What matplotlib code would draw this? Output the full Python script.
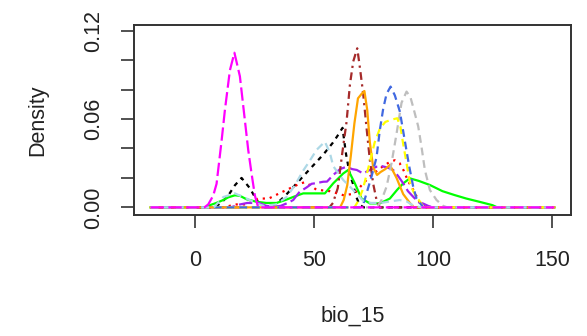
import matplotlib
matplotlib.use("Agg")
import matplotlib.pyplot as plt

# ----------------------------
# Density curves of bio_15
# ----------------------------

black_x = [-18.6, 8, 11, 14, 16.8, 19.6, 23.1, 25.9, 28, 31, 34, 38, 42, 46, 50, 54, 58, 60.5, 62, 63.5, 65, 66.4, 67.8, 69.3, 71, 151]
black_y = [0, 0, 0.003, 0.008, 0.015, 0.020, 0.013, 0.005, 0.001, 0.0005, 0.002, 0.008, 0.015, 0.022, 0.029, 0.036, 0.044, 0.050, 0.054, 0.036, 0.023, 0.016, 0.007, 0.0015, 0, 0]

red_x = [-18.6, 12, 17, 21, 23, 26.5, 31, 35.7, 41.3, 44, 46, 48.5, 51, 56.7, 62.3, 66, 68, 70, 73.5, 79.1, 82, 84, 86, 87.7, 89.5, 91.7, 94.5, 97, 151]
red_y = [0, 0, 0.002, 0.002, 0.003, 0.006, 0.006, 0.0097, 0.014, 0.016, 0.017, 0.015, 0.012, 0.011, 0.0083, 0.009, 0.011, 0.015, 0.021, 0.028, 0.031, 0.032, 0.030, 0.025, 0.018, 0.012, 0.003, 0, 0]

green_x = [-18.6, 5, 6.3, 9, 11.9, 14, 16.8, 19, 21.7, 25.9, 30, 34.3, 38, 42, 45.5, 50, 54.6, 58.1, 62.3, 64.4, 67.2, 70, 73.5, 77.7, 81.9, 85, 87.5, 90.3, 94, 98.7, 104, 109, 114, 119.5, 125, 127, 151]
green_y = [0, 0, 0.0015, 0.003, 0.005, 0.0068, 0.0082, 0.0078, 0.0055, 0.0038, 0.003, 0.003, 0.005, 0.0075, 0.0095, 0.0095, 0.0095, 0.0163, 0.023, 0.0254, 0.0163, 0.006, 0.0027, 0.0027, 0.006, 0.012, 0.0163, 0.0197, 0.018, 0.0152, 0.011, 0.0084, 0.006, 0.0038, 0.0015, 0, 0]

purple_x = [-18.6, 15, 19, 22, 27, 30, 33, 36, 39, 41.3, 44, 46.9, 49, 51.1, 53.9, 55.5, 58.1, 61, 63.7, 66, 68, 70.7, 73, 76.3, 78.5, 81, 83.3, 85.5, 87.5, 89.5, 91.7, 94, 96, 98, 100, 151]
purple_y = [0, 0, 0.002, 0.003, 0.003, 0.001, 0.0005, 0.001, 0.003, 0.005, 0.0106, 0.0135, 0.016, 0.0165, 0.0174, 0.0175, 0.022, 0.026, 0.0276, 0.026, 0.0254, 0.023, 0.025, 0.0276, 0.028, 0.027, 0.0254, 0.021, 0.0163, 0.011, 0.0072, 0.0035, 0.0025, 0.001, 0, 0]

brown_x = [-18.6, 56.5, 58, 60, 62, 63.7, 65.1, 66.5, 68.2, 69.3, 70.7, 72.1, 73.5, 74.9, 76.3, 77.7, 151]
brown_y = [0, 0, 0.003, 0.013, 0.038, 0.058, 0.083, 0.099, 0.108, 0.095, 0.077, 0.054, 0.032, 0.016, 0.005, 0, 0]

orange_x = [-18.6, 61, 62.5, 64, 65.5, 67, 68.5, 70, 71.2, 72.4, 73.5, 74.9, 76.5, 78, 80, 81.9, 84.7, 87.5, 90.3, 92, 151]
orange_y = [0, 0, 0.005, 0.015, 0.035, 0.057, 0.074, 0.077, 0.079, 0.066, 0.044, 0.027, 0.022, 0.024, 0.026, 0.0288, 0.020, 0.009, 0.003, 0, 0]

grey_x = [-18.6, 76.5, 78.4, 80.5, 82.6, 84.7, 86.8, 88.9, 90.5, 91.7, 93.8, 95.2, 96.6, 98.7, 101.5, 104.3, 106, 151]
grey_y = [0, 0, 0.005, 0.014, 0.030, 0.050, 0.071, 0.0786, 0.075, 0.068, 0.055, 0.041, 0.0254, 0.0118, 0.005, 0.001, 0, 0]

yellow_x = [-18.6, 67, 68.5, 70.5, 72.1, 74, 75.5, 77.7, 80, 82.5, 85, 86.3, 87.5, 88.9, 90.3, 91.7, 93.1, 94.5, 96, 151]
yellow_y = [0, 0, 0.004, 0.012, 0.022, 0.034, 0.044, 0.0535, 0.058, 0.0595, 0.0605, 0.055, 0.043, 0.030, 0.017, 0.011, 0.007, 0.004, 0, 0]

blue_x = [-18.6, 69.5, 70.7, 72.1, 74.2, 76.3, 77.7, 79.1, 80.5, 82.2, 84, 86.1, 88.2, 89.9, 91.7, 93.1, 94.5, 96, 151]
blue_y = [0, 0, 0.002, 0.0095, 0.021, 0.034, 0.0526, 0.067, 0.077, 0.082, 0.076, 0.065, 0.045, 0.029, 0.014, 0.006, 0.003, 0, 0]

lightblue_x = [-18.6, 8, 11.9, 16.8, 21.7, 25.9, 29, 34, 38.5, 42, 45.5, 48, 51.1, 54.6, 56.7, 58.1, 62.3, 66.5, 70.7, 74, 78, 82, 86, 89, 92, 95, 151]
lightblue_y = [0, 0, 0.007, 0.0095, 0.006, 0.0027, 0.001, 0.002, 0.007, 0.015, 0.025, 0.031, 0.039, 0.0446, 0.037, 0.028, 0.0186, 0.0118, 0.0045, 0.003, 0.003, 0.004, 0.005, 0.004, 0.001, 0, 0]

magenta_x = [-18.6, 4, 5.6, 7.7, 9.1, 11.2, 12.6, 14.7, 16.6, 18.9, 21, 22.4, 23.8, 25.2, 26.6, 151]
magenta_y = [0, 0, 0.002, 0.008, 0.016, 0.045, 0.066, 0.093, 0.105, 0.089, 0.059, 0.039, 0.023, 0.008, 0, 0]

x_ticks = [0, 50, 100, 150]
y_ticks = [0.00, 0.02, 0.04, 0.06, 0.08, 0.10, 0.12]
y_tick_labels = ["0.00", "", "", "0.06", "", "", "0.12"]

# ----------------------------
# Figure
# ----------------------------

plt.rcParams["font.family"] = ["Liberation Sans", "DejaVu Sans"]

fig = plt.figure(figsize=(5.87, 3.36), dpi=100)
ax = fig.add_axes([0.229, 0.360, 0.743, 0.566])

lw = 1.6
curves = [
    (black_x, black_y, "black", (2, 2.2)),
    (red_x, red_y, "#FF0000", (1, 2.2)),
    (green_x, green_y, "#00FF00", None),
    (purple_x, purple_y, "#A020F0", (6, 2)),
    (brown_x, brown_y, "#A52A2A", (1, 2, 3.5, 2)),
    (orange_x, orange_y, "#FFA500", None),
    (grey_x, grey_y, "#BEBEBE", (3.5, 2.2)),
    (yellow_x, yellow_y, "#FFFF00", (3.5, 2.2)),
    (blue_x, blue_y, "#4169E1", (3.5, 2.2)),
    (lightblue_x, lightblue_y, "#ADD8E6", (3.5, 2.2)),
    (magenta_x, magenta_y, "#FF00FF", (6, 2)),
]

for xs, ys, color, dashes in curves:
    line, = ax.plot(xs, ys, color=color, linewidth=lw)
    if dashes is not None:
        line.set_dashes(dashes)

ax.set_xlim(-25.4, 157.8)
ax.set_ylim(-0.0052, 0.1239)

ax.set_xticks(x_ticks)
ax.set_xticklabels([str(t) for t in x_ticks])
ax.set_yticks(y_ticks)
ax.set_yticklabels(y_tick_labels, rotation=90, va="center")

ax.tick_params(axis="both", direction="out", length=9.5, width=1.2,
               color="#333333", labelsize=15.5, labelcolor="#222222")
ax.tick_params(axis="x", pad=15.5)
ax.tick_params(axis="y", pad=12)

for spine in ax.spines.values():
    spine.set_linewidth(1.4)
    spine.set_color("#333333")

ax.set_xlabel("bio_15", fontsize=15.5, color="#222222", labelpad=25)
ax.set_ylabel("Density", fontsize=15.5, color="#222222", labelpad=25.5)

fig.savefig("out.png", dpi=100)
